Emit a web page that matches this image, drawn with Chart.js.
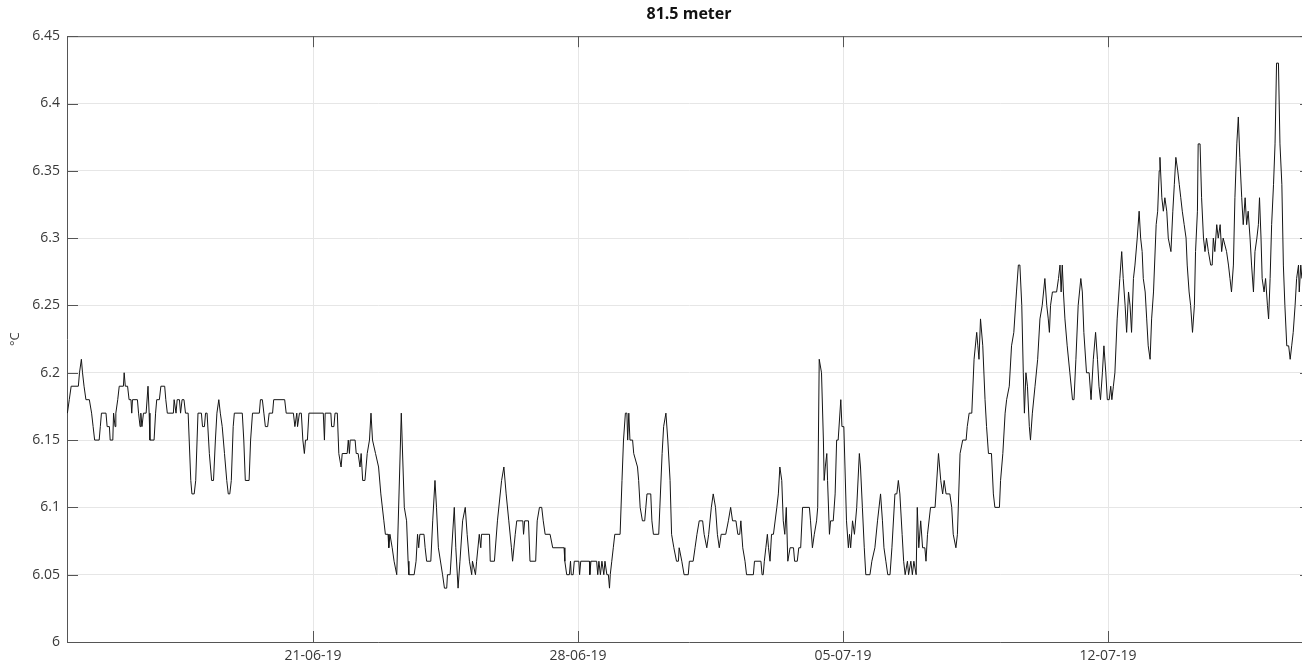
<!DOCTYPE html>
<html>
<head>
<meta charset="utf-8">
<script src="https://cdn.jsdelivr.net/npm/chart.js@4.4.0/dist/chart.umd.min.js"></script>
<style>
  html, body { margin: 0; padding: 0; background: #fff; overflow: hidden; }
  #wrap { width: 1311px; height: 664px; }
</style>
</head>
<body>
<div id="wrap"><canvas id="chart" width="1311" height="664"></canvas></div>
<script>
const chartTitle = '81.5 meter';
const yTitle = '°C';

// time in days since 14-06-19 00:00, temperature in °C
const times = [
  0.51, 0.56, 0.61, 0.80, 0.83, 0.88, 0.91, 0.95, 1.00, 1.09, 1.15, 1.19,
  1.23, 1.35, 1.38, 1.41, 1.53, 1.56, 1.62, 1.64, 1.71, 1.73, 1.77, 1.79,
  1.84, 1.88, 1.99, 2.01, 2.04, 2.10, 2.14, 2.19, 2.21, 2.23, 2.36, 2.39,
  2.43, 2.45, 2.48, 2.52, 2.59, 2.64, 2.67, 2.69, 2.80, 2.84, 2.87, 2.94,
  2.98, 3.08, 3.11, 3.15, 3.31, 3.33, 3.38, 3.41, 3.47, 3.50, 3.54, 3.59,
  3.63, 3.70, 3.77, 3.80, 3.86, 3.90, 3.96, 4.05, 4.08, 4.13, 4.16, 4.20,
  4.26, 4.32, 4.37, 4.42, 4.46, 4.51, 4.55, 4.60, 4.66, 4.72, 4.76, 4.80,
  4.84, 4.89, 4.92, 5.13, 5.17, 5.21, 5.31, 5.35, 5.40, 5.58, 5.61, 5.66,
  5.70, 5.74, 5.80, 5.84, 5.93, 5.96, 6.25, 6.29, 6.48, 6.52, 6.57, 6.59,
  6.64, 6.69, 6.73, 6.77, 6.80, 6.85, 6.89, 7.27, 7.30, 7.32, 7.47, 7.49,
  7.55, 7.58, 7.64, 7.68, 7.74, 7.77, 7.90, 7.93, 7.96, 7.98, 8.11, 8.14,
  8.19, 8.24, 8.27, 8.31, 8.37, 8.40, 8.43, 8.49, 8.53, 8.57, 8.65, 8.73,
  8.79, 8.87, 8.91, 8.98, 9.00, 9.03, 9.09, 9.14, 9.21, 9.33, 9.41, 9.47,
  9.51, 9.53, 9.67, 9.72, 9.76, 9.79, 9.82, 9.93, 9.96, 10.00, 10.11, 10.16,
  10.22, 10.26, 10.31, 10.42, 10.47, 10.53, 10.55, 10.62, 10.73, 10.77, 10.83, 10.88,
  10.95, 11.02, 11.07, 11.13, 11.19, 11.21, 11.29, 11.32, 11.39, 11.43, 11.45, 11.66,
  11.68, 11.79, 11.87, 11.98, 12.04, 12.10, 12.17, 12.24, 12.27, 12.34, 12.38, 12.54,
  12.56, 12.59, 12.69, 12.73, 12.88, 12.92, 12.98, 13.04, 13.08, 13.13, 13.26, 13.33,
  13.63, 13.65, 13.70, 13.77, 13.80, 13.82, 13.87, 13.90, 14.02, 14.04, 14.07, 14.30,
  14.31, 14.34, 14.49, 14.52, 14.55, 14.59, 14.63, 14.68, 14.71, 14.76, 14.80, 14.83,
  14.85, 14.89, 14.93, 14.97, 15.11, 15.16, 15.20, 15.25, 15.29, 15.31, 15.34, 15.37,
  15.44, 15.47, 15.57, 15.60, 15.64, 15.70, 15.76, 15.79, 15.82, 15.92, 15.95, 15.99,
  16.13, 16.16, 16.22, 16.26, 16.32, 16.37, 16.43, 16.47, 16.53, 16.60, 16.65, 16.67,
  16.74, 16.80, 16.91, 16.94, 17.04, 17.09, 17.14, 17.20, 17.29, 17.33, 17.40, 17.45,
  17.52, 17.57, 17.63, 17.68, 17.73, 17.78, 17.90, 17.97, 18.03, 18.08, 18.17, 18.22,
  18.27, 18.30, 18.35, 18.41, 18.45, 18.63, 18.66, 18.83, 18.86, 18.89, 18.92, 18.96,
  19.00, 19.03, 19.07, 19.11, 19.16, 19.25, 19.29, 19.33, 19.38, 19.42, 19.46, 19.50,
  19.54, 19.60, 19.69, 19.72, 19.79, 19.83, 19.88, 19.93, 20.11, 20.14, 20.19, 20.24,
  20.30, 20.33, 20.37, 20.43, 20.48, 20.50, 20.53, 20.57, 20.59, 20.64, 20.67, 20.74,
  20.79, 20.83, 20.87, 20.94, 20.97, 21.02, 21.05, 21.09, 21.14, 21.17, 21.20, 21.25,
  21.30, 21.36, 21.43, 21.46, 21.51, 21.56, 21.60, 21.71, 21.76, 21.84, 21.91, 21.99,
  22.04, 22.08, 22.13, 22.18, 22.24, 22.29, 22.37, 22.42, 22.46, 22.50, 22.56, 22.60,
  22.64, 22.70, 22.73, 22.79, 22.83, 22.87, 22.93, 22.96, 23.00, 23.05, 23.10, 23.16,
  23.19, 23.23, 23.31, 23.43, 23.52, 23.58, 23.63, 23.67, 23.72, 23.82, 23.87, 23.91,
  23.98, 24.02, 24.09, 24.16, 24.25, 24.28, 24.33, 24.40, 24.46, 24.53, 24.56, 24.59,
  24.63, 24.69, 24.75, 24.79, 24.84, 24.92, 24.97, 25.01, 25.13, 25.16, 25.22, 25.28,
  25.32, 25.39, 25.45, 25.51, 25.58, 25.63, 25.67, 25.72, 25.76, 25.79, 25.83, 25.87,
  25.92, 25.95, 26.00, 26.07, 26.14, 26.20, 26.26, 26.33, 26.38, 26.42, 26.45, 26.48,
  26.53, 26.64, 26.69, 26.73, 26.76, 26.79, 26.82, 26.86, 26.92, 26.99, 27.06, 27.10,
  27.15, 27.21, 27.28, 27.32, 27.36, 27.43, 27.50, 27.55, 27.61, 27.67, 27.72, 27.76,
  27.80, 27.85, 27.89, 27.94, 27.98, 28.03, 28.07, 28.10, 28.14, 28.18, 28.24, 28.31,
  28.36, 28.40, 28.45, 28.49, 28.54, 28.58, 28.62, 28.67, 28.71, 28.77, 28.82, 28.86,
  28.90, 28.93, 28.98, 29.02, 29.06, 29.11, 29.15, 29.20, 29.27, 29.31, 29.35, 29.37,
  29.42, 29.46, 29.50, 29.55, 29.59, 29.66, 29.71, 29.75, 29.79, 29.84, 29.88, 29.92,
  29.96, 30.01, 30.06, 30.09, 30.14, 30.18, 30.23, 30.28, 30.31, 30.36, 30.38, 30.43,
  30.47, 30.52, 30.56, 30.60, 30.65, 30.71, 30.75, 30.78, 30.82, 30.87, 30.91, 30.96,
  31.00, 31.04, 31.13, 31.18, 31.22, 31.26, 31.31, 31.35, 31.40, 31.44, 31.48, 31.53,
  31.57, 31.62, 31.66, 31.70, 31.75, 31.79, 31.84, 31.88, 31.93, 31.97, 32.00, 32.04,
  32.07, 32.12, 32.16, 32.21, 32.24, 32.28, 32.32, 32.37, 32.41, 32.45, 32.50, 32.54,
  32.59, 32.63, 32.67, 32.72, 32.77, 32.81, 32.85, 32.89, 32.94, 32.98, 33.03, 33.05,
  33.09, 33.12
];
const temps = [
  6.17, 6.18, 6.19, 6.19, 6.20, 6.21, 6.20, 6.19, 6.18, 6.18, 6.17, 6.16,
  6.15, 6.15, 6.16, 6.17, 6.17, 6.16, 6.16, 6.15, 6.15, 6.17, 6.16, 6.17,
  6.18, 6.19, 6.19, 6.20, 6.19, 6.19, 6.18, 6.18, 6.17, 6.18, 6.18, 6.17,
  6.16, 6.17, 6.16, 6.17, 6.17, 6.19, 6.17, 6.15, 6.15, 6.17, 6.18, 6.18,
  6.19, 6.19, 6.18, 6.17, 6.17, 6.18, 6.17, 6.18, 6.18, 6.17, 6.18, 6.18,
  6.17, 6.17, 6.12, 6.11, 6.11, 6.12, 6.17, 6.17, 6.16, 6.16, 6.17, 6.17,
  6.14, 6.12, 6.12, 6.15, 6.17, 6.18, 6.17, 6.16, 6.14, 6.12, 6.11, 6.11,
  6.12, 6.16, 6.17, 6.17, 6.15, 6.12, 6.12, 6.15, 6.17, 6.17, 6.18, 6.18,
  6.17, 6.16, 6.16, 6.17, 6.17, 6.18, 6.18, 6.17, 6.17, 6.16, 6.17, 6.16,
  6.17, 6.17, 6.15, 6.14, 6.15, 6.15, 6.17, 6.17, 6.15, 6.17, 6.17, 6.16,
  6.16, 6.17, 6.17, 6.14, 6.13, 6.14, 6.14, 6.15, 6.14, 6.15, 6.15, 6.14,
  6.14, 6.13, 6.14, 6.12, 6.12, 6.13, 6.14, 6.15, 6.17, 6.15, 6.14, 6.13,
  6.11, 6.09, 6.08, 6.08, 6.07, 6.08, 6.07, 6.06, 6.05, 6.17, 6.10, 6.09,
  6.06, 6.05, 6.05, 6.06, 6.08, 6.07, 6.08, 6.08, 6.07, 6.06, 6.06, 6.09,
  6.12, 6.10, 6.07, 6.05, 6.04, 6.04, 6.05, 6.05, 6.10, 6.07, 6.04, 6.06,
  6.09, 6.10, 6.08, 6.06, 6.05, 6.06, 6.05, 6.06, 6.08, 6.07, 6.08, 6.08,
  6.06, 6.06, 6.09, 6.12, 6.13, 6.11, 6.09, 6.07, 6.06, 6.08, 6.09, 6.09,
  6.08, 6.09, 6.09, 6.06, 6.06, 6.09, 6.10, 6.10, 6.09, 6.08, 6.08, 6.07,
  6.07, 6.06, 6.05, 6.05, 6.06, 6.05, 6.05, 6.06, 6.06, 6.05, 6.06, 6.06,
  6.05, 6.06, 6.06, 6.05, 6.06, 6.05, 6.06, 6.05, 6.06, 6.05, 6.05, 6.04,
  6.05, 6.06, 6.07, 6.08, 6.08, 6.12, 6.15, 6.17, 6.17, 6.15, 6.17, 6.15,
  6.15, 6.14, 6.13, 6.12, 6.10, 6.09, 6.09, 6.10, 6.11, 6.11, 6.09, 6.08,
  6.08, 6.10, 6.14, 6.16, 6.17, 6.15, 6.12, 6.08, 6.07, 6.06, 6.06, 6.07,
  6.06, 6.05, 6.05, 6.06, 6.06, 6.07, 6.08, 6.09, 6.09, 6.08, 6.07, 6.08,
  6.10, 6.11, 6.10, 6.08, 6.07, 6.08, 6.08, 6.09, 6.10, 6.09, 6.09, 6.08,
  6.08, 6.09, 6.07, 6.06, 6.05, 6.05, 6.06, 6.06, 6.05, 6.05, 6.06, 6.07,
  6.08, 6.07, 6.06, 6.08, 6.08, 6.10, 6.11, 6.13, 6.12, 6.09, 6.08, 6.10,
  6.06, 6.07, 6.07, 6.06, 6.06, 6.07, 6.07, 6.10, 6.10, 6.09, 6.07, 6.08,
  6.09, 6.10, 6.21, 6.20, 6.15, 6.12, 6.13, 6.14, 6.12, 6.08, 6.09, 6.09,
  6.11, 6.15, 6.15, 6.18, 6.16, 6.16, 6.13, 6.09, 6.07, 6.08, 6.07, 6.09,
  6.08, 6.10, 6.14, 6.13, 6.10, 6.07, 6.05, 6.05, 6.06, 6.07, 6.09, 6.11,
  6.09, 6.07, 6.06, 6.05, 6.05, 6.07, 6.11, 6.11, 6.12, 6.11, 6.08, 6.06,
  6.05, 6.06, 6.05, 6.06, 6.05, 6.06, 6.05, 6.10, 6.07, 6.09, 6.07, 6.07,
  6.06, 6.08, 6.10, 6.10, 6.14, 6.12, 6.11, 6.12, 6.11, 6.11, 6.10, 6.08,
  6.07, 6.08, 6.14, 6.15, 6.15, 6.16, 6.17, 6.17, 6.21, 6.23, 6.22, 6.21,
  6.24, 6.22, 6.18, 6.16, 6.14, 6.14, 6.11, 6.10, 6.10, 6.12, 6.14, 6.17,
  6.18, 6.19, 6.22, 6.23, 6.26, 6.28, 6.28, 6.25, 6.20, 6.17, 6.20, 6.19,
  6.16, 6.15, 6.17, 6.19, 6.21, 6.24, 6.25, 6.27, 6.25, 6.24, 6.23, 6.25,
  6.26, 6.26, 6.27, 6.28, 6.26, 6.28, 6.26, 6.24, 6.22, 6.20, 6.18, 6.18,
  6.21, 6.25, 6.27, 6.26, 6.23, 6.20, 6.20, 6.18, 6.21, 6.23, 6.21, 6.19,
  6.18, 6.20, 6.22, 6.20, 6.18, 6.18, 6.19, 6.18, 6.19, 6.20, 6.24, 6.27,
  6.29, 6.27, 6.25, 6.23, 6.26, 6.25, 6.23, 6.27, 6.28, 6.30, 6.32, 6.30,
  6.29, 6.27, 6.26, 6.24, 6.22, 6.21, 6.24, 6.26, 6.31, 6.32, 6.35, 6.36,
  6.33, 6.32, 6.33, 6.32, 6.30, 6.29, 6.32, 6.34, 6.36, 6.35, 6.34, 6.33,
  6.32, 6.31, 6.30, 6.28, 6.26, 6.25, 6.23, 6.25, 6.29, 6.32, 6.37, 6.37,
  6.33, 6.30, 6.29, 6.30, 6.29, 6.28, 6.28, 6.30, 6.29, 6.31, 6.30, 6.31,
  6.29, 6.30, 6.29, 6.28, 6.27, 6.26, 6.28, 6.33, 6.37, 6.39, 6.36, 6.33,
  6.31, 6.33, 6.31, 6.32, 6.30, 6.28, 6.26, 6.29, 6.30, 6.31, 6.33, 6.30,
  6.27, 6.26, 6.27, 6.25, 6.24, 6.27, 6.31, 6.34, 6.37, 6.43, 6.43, 6.37,
  6.34, 6.28, 6.25, 6.22, 6.22, 6.21, 6.22, 6.23, 6.25, 6.27, 6.28, 6.26,
  6.28, 6.27
];

const xMin = 0.5;
const xMax = 33.36;
const xTickDays = [7, 14, 21, 28];
const xTickLabels = ['21-06-19', '28-06-19', '05-07-19', '12-07-19'];
const yTicks = [6, 6.05, 6.1, 6.15, 6.2, 6.25, 6.3, 6.35, 6.4, 6.45];
const yTickLabels = ['6', '6.05', '6.1', '6.15', '6.2', '6.25', '6.3', '6.35', '6.4', '6.45'];

const points = times.map((t, i) => ({ x: t, y: temps[i] }));

// MATLAB-style box: top edge plus inward tick marks
const innerTicks = {
  id: 'innerTicks',
  afterDraw(chart) {
    const { ctx, chartArea: a, scales: { x, y } } = chart;
    ctx.save();
    ctx.strokeStyle = '#555';
    ctx.lineWidth = 1;
    ctx.beginPath();
    ctx.moveTo(a.left, a.top + 0.5);
    ctx.lineTo(a.right, a.top + 0.5);
    xTickDays.forEach(d => {
      const px = Math.round(x.getPixelForValue(d)) + 0.5;
      ctx.moveTo(px, a.bottom);
      ctx.lineTo(px, a.bottom - 11);
      ctx.moveTo(px, a.top);
      ctx.lineTo(px, a.top + 11);
    });
    yTicks.forEach(v => {
      const py = Math.round(y.getPixelForValue(v)) + 0.5;
      ctx.moveTo(a.left, py);
      ctx.lineTo(a.left + 11, py);
      ctx.moveTo(a.right, py);
      ctx.lineTo(a.right - 11, py);
    });
    ctx.stroke();
    ctx.restore();
  }
};

const tickFont = { family: 'Open Sans', size: 14 };

new Chart(document.getElementById('chart'), {
  type: 'line',
  data: {
    datasets: [{
      data: points,
      borderColor: '#151515',
      borderWidth: 1,
      pointRadius: 0,
      tension: 0,
      fill: false
    }]
  },
  options: {
    responsive: false,
    animation: false,
    layout: { padding: 0 },
    plugins: {
      legend: { display: false },
      tooltip: { enabled: false },
      title: {
        display: true,
        text: chartTitle,
        fullSize: false,
        color: '#111',
        font: { family: 'Open Sans', size: 16, weight: 'bold' },
        padding: { top: 5, bottom: 12 }
      }
    },
    scales: {
      x: {
        type: 'linear',
        min: xMin,
        max: xMax,
        afterBuildTicks: s => { s.ticks = xTickDays.map(v => ({ value: v })); },
        ticks: {
          callback: (v, i) => xTickLabels[i],
          autoSkip: false,
          maxRotation: 0,
          padding: 6,
          color: '#383838',
          font: tickFont
        },
        grid: { color: '#e6e6e6', drawTicks: false },
        border: { color: '#555', width: 1 },
        afterFit: s => { s.height = 22; }
      },
      y: {
        min: 6,
        max: 6.45,
        afterBuildTicks: s => { s.ticks = yTicks.map(v => ({ value: v })); },
        ticks: {
          callback: (v, i) => yTickLabels[i],
          padding: 7,
          color: '#383838',
          font: tickFont
        },
        grid: { color: '#e6e6e6', drawTicks: false },
        border: { color: '#555', width: 1 },
        title: {
          display: true,
          text: yTitle,
          color: '#383838',
          font: { family: 'Open Sans', size: 13 },
          padding: { top: 7, bottom: 0 }
        },
        afterFit: s => { s.width = 67; }
      }
    }
  },
  plugins: [innerTicks]
});
</script>
</body>
</html>
